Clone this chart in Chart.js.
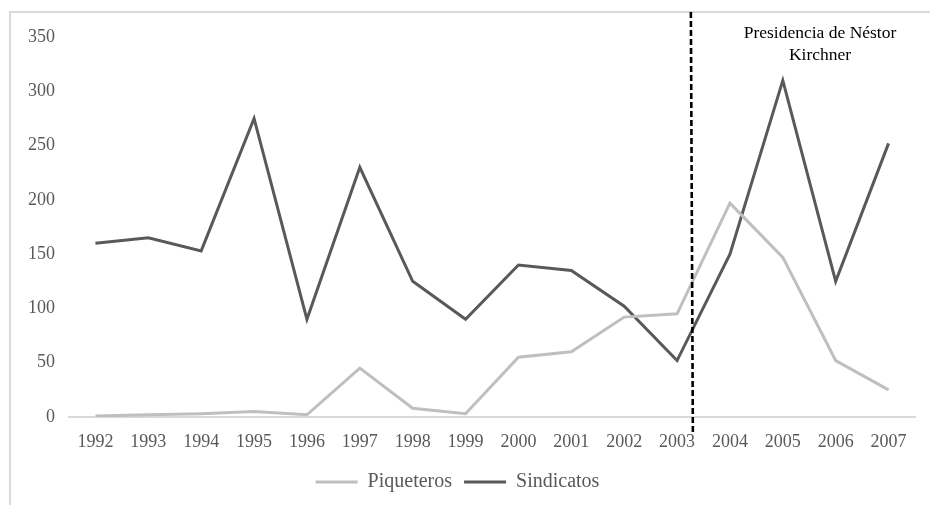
<!DOCTYPE html>
<html>
<head>
<meta charset="utf-8">
<script src="https://cdn.jsdelivr.net/npm/chart.js@4.4.0/dist/chart.umd.min.js"></script>
<style>
html,body{margin:0;padding:0;background:#fff;}
#wrap{width:930px;height:505px;position:relative;}
</style>
</head>
<body>
<div id="wrap"><canvas id="c"></canvas></div>
<script>
const years = ['1992','1993','1994','1995','1996','1997','1998','1999','2000','2001','2002','2003','2004','2005','2006','2007'];
const piqueteros = [1, 2, 3, 5, 2, 45, 8, 3, 55, 60, 92, 95, 197, 147, 52, 25];
const sindicatos = [160, 165, 153, 275, 90, 230, 125, 90, 140, 135, 102, 52, 150, 310, 125, 252];
const yTicks = [0, 50, 100, 150, 200, 250, 300, 350];
const dividerIndex = 11.28; // between 2003 and 2004
const annotationLines = ['Presidencia de Néstor', 'Kirchner'];

const FONT = "'Liberation Serif', 'Times New Roman', serif";

const decor = {
  id: 'decor',
  beforeDraw(chart) {
    const ctx = chart.ctx;
    ctx.save();
    ctx.strokeStyle = '#d9d9d9';
    ctx.lineWidth = 2;
    ctx.beginPath();
    ctx.moveTo(10, 510);
    ctx.lineTo(10, 12);
    ctx.lineTo(940, 12);
    ctx.stroke();
    ctx.restore();
  },
  afterDatasetsDraw(chart) {
    const ctx = chart.ctx;
    const xs = chart.scales.x;
    const i0 = Math.floor(dividerIndex);
    const p0 = xs.getPixelForValue(i0), p1 = xs.getPixelForValue(i0 + 1);
    const x = p0 + (dividerIndex - i0) * (p1 - p0);
    ctx.save();
    ctx.strokeStyle = '#000';
    ctx.lineWidth = 2.6;
    ctx.setLineDash([6, 3]);
    ctx.beginPath();
    ctx.moveTo(x - 1, 12);
    ctx.lineTo(x + 1, 432);
    ctx.stroke();
    ctx.setLineDash([]);
    ctx.fillStyle = '#000';
    ctx.font = "17.5px " + FONT;
    ctx.textAlign = 'center';
    ctx.textBaseline = 'middle';
    ctx.fillText(annotationLines[0], 820, 33);
    ctx.fillText(annotationLines[1], 820, 55);
    ctx.restore();
  }
};

new Chart(document.getElementById('c'), {
  type: 'line',
  data: {
    labels: years,
    datasets: [
      { label: 'Piqueteros', data: piqueteros, borderColor: '#bfbfbf', backgroundColor: '#bfbfbf', borderWidth: 3, pointRadius: 0, tension: 0 },
      { label: 'Sindicatos', data: sindicatos, borderColor: '#595959', backgroundColor: '#595959', borderWidth: 3, pointRadius: 0, tension: 0 }
    ]
  },
  options: {
    responsive: true,
    maintainAspectRatio: false,
    animation: false,
    layout: { padding: { top: 37, right: 15, left: 0, bottom: 3 } },
    plugins: {
      tooltip: { enabled: false },
      legend: {
        position: 'bottom',
        labels: {
          boxWidth: 42,
          boxHeight: 3,
          padding: 12,
          color: '#595959',
          font: { family: FONT, size: 20 },
          generateLabels(chart) {
            const items = Chart.defaults.plugins.legend.labels.generateLabels(chart);
            items.forEach(it => { it.lineWidth = 0; });
            return items;
          }
        }
      }
    },
    scales: {
      x: {
        type: 'category',
        offset: true,
        grid: { display: false, drawTicks: false },
        border: { display: true, color: '#d9d9d9', width: 2 },
        ticks: { color: '#595959', font: { family: FONT, size: 18 }, padding: 14, maxRotation: 0, autoSkip: false },
        afterFit(scale) { scale.height = 43; }
      },
      y: {
        min: 0,
        max: 350,
        afterBuildTicks(scale) { scale.ticks = yTicks.map(v => ({ value: v })); },
        grid: { display: false, drawTicks: false },
        border: { display: false },
        ticks: { color: '#595959', font: { family: FONT, size: 18 }, padding: 14 },
        afterFit(scale) { scale.width = 69; }
      }
    }
  },
  plugins: [decor]
});
</script>
</body>
</html>
